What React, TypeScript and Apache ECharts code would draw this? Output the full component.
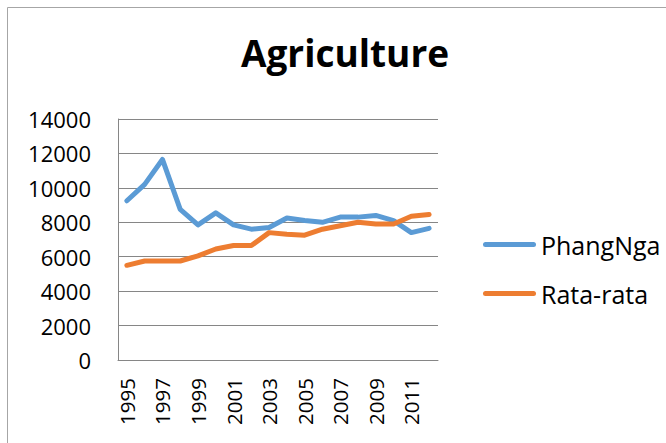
import React, { useEffect, useRef } from "react";
import * as echarts from "echarts";

const years = ["1995","1996","1997","1998","1999","2000","2001","2002","2003","2004","2005","2006","2007","2008","2009","2010","2011","2012"];
const phangNga = [9250, 10200, 11650, 8750, 7850, 8550, 7850, 7600, 7700, 8250, 8100, 8000, 8300, 8300, 8400, 8100, 7400, 7650];
const rataRata = [5500, 5750, 5750, 5750, 6050, 6450, 6650, 6650, 7400, 7300, 7250, 7600, 7800, 8000, 7900, 7900, 8350, 8450];
const seriesNames = ["PhangNga", "Rata-rata"];
const titleText = "Agriculture";

const FONT = "'Open Sans', Lato, sans-serif";

export default function App() {
  const ref = useRef<HTMLDivElement>(null);
  useEffect(() => {
    document.body.style.margin = "0";
    const chart = echarts.init(ref.current!, null, { renderer: "svg" });
    const legendBase = {
      left: 478,
      itemWidth: 53,
      itemHeight: 30,
      icon: "path://M2.5,0 L50.5,0 A2.5,2.5 0 0 1 50.5,5 L2.5,5 A2.5,2.5 0 0 1 2.5,0 Z",
      textStyle: { fontFamily: FONT, fontSize: 25, color: "#000" },
    };
    chart.setOption({
      animation: false,
      backgroundColor: "#ffffff",
      title: {
        text: titleText,
        left: 340,
        textAlign: "center",
        top: 29,
        textStyle: { fontFamily: FONT, fontSize: 37, fontWeight: "bold", color: "#000" },
      },
      graphic: [
        {
          type: "rect",
          shape: { x: 7.5, y: 7.5, width: 700, height: 500 },
          style: { fill: "none", stroke: "#a6a6a6", lineWidth: 1 },
          silent: true,
        },
      ],
      legend: [
        { ...legendBase, data: [seriesNames[0]], top: 244 - 17 },
        { ...legendBase, data: [seriesNames[1]], top: 293 - 17 },
      ],
      grid: { left: 118, right: 228, top: 119, bottom: 83, containLabel: false },
      xAxis: {
        type: "category",
        data: years,
        boundaryGap: true,
        axisLine: { show: true, lineStyle: { color: "#868686", width: 1 } },
        axisTick: { show: false },
        axisLabel: {
          interval: 1,
          rotate: 90,
          margin: 18,
          fontFamily: FONT,
          fontSize: 20.5,
          color: "#000",
        },
      },
      yAxis: {
        type: "value",
        min: 0,
        max: 14000,
        interval: 2000,
        axisLine: { show: true, lineStyle: { color: "#868686", width: 1 } },
        axisTick: { show: false },
        splitLine: { show: true, lineStyle: { color: "#868686", width: 1 } },
        axisLabel: {
          margin: 27,
          fontFamily: FONT,
          fontSize: 22,
          color: "#000",
          formatter: (v: number) => String(v),
        },
      },
      series: [
        {
          name: seriesNames[0],
          type: "line",
          data: phangNga,
          symbol: "none",
          lineStyle: { color: "#5b9bd5", width: 5, cap: "round", join: "round" },
          itemStyle: { color: "#5b9bd5" },
        },
        {
          name: seriesNames[1],
          type: "line",
          data: rataRata,
          symbol: "none",
          lineStyle: { color: "#ed7d31", width: 5, cap: "round", join: "round" },
          itemStyle: { color: "#ed7d31" },
        },
      ],
    });
    return () => chart.dispose();
  }, []);
  return <div ref={ref} style={{ width: 666, height: 443 }} />;
}
